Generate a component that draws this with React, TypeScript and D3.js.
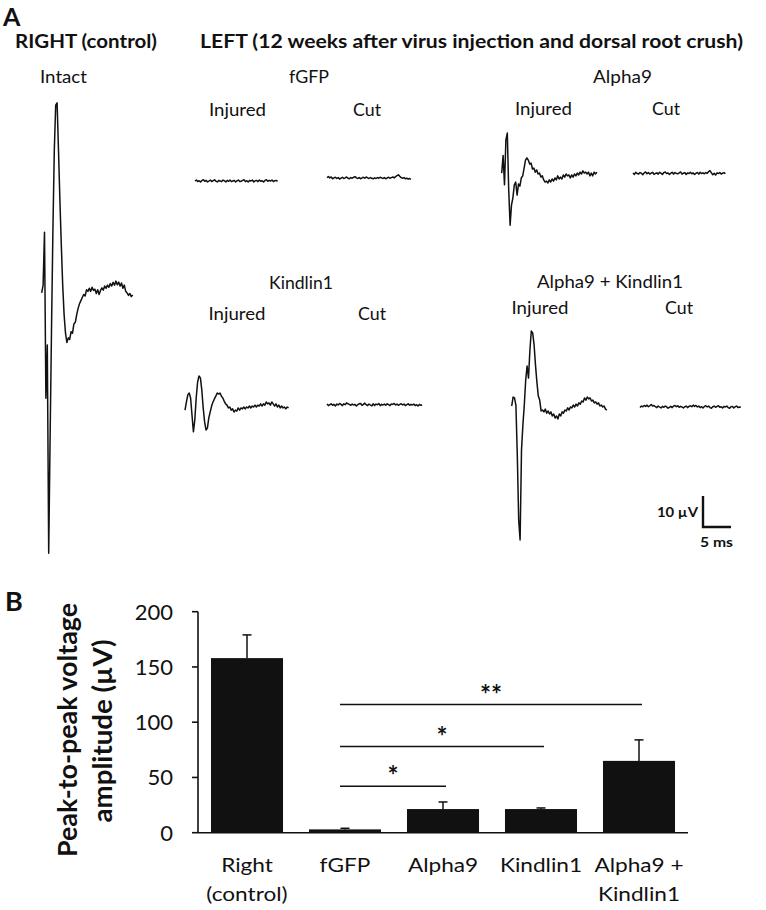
import * as d3 from "d3";

const width = 766;
const height = 910;

// ---- A: evoked potentials in µV, one sample every 0.25 ms ----
const sampleMs = 0.25;

const intact = [1, 3.5, 20.6, -33, -15.8, -83, -46, -11, 21, 47, 61.6, 62.3, 47, 31, 16.5, 3.5, -6, -12, -15, -13.5, -14, -11.5, -12, -9, -8.5, -6, -4, -2.5, -1.5, -0.5, 0.5, 0, 2, 1.5, 2.5, 1.5, 2.8, 1.8, 2.2, 0.8, 2, 0.5, 1.8, 2.6, 1.9, 3.2, 2.5, 3.5, 2.8, 4, 3.2, 4.4, 3.5, 4.8, 3.6, 4.5, 3.2, 4.2, 2.5, 3.5, 1.5, 1.0, 0.2, 0.8, -0.2, 0.3];

const fgfpInjured = [0, 0.3, -0.2, 0.1, -0.3, 0.2, 0.4, -0.1, 0.2, -0.3, 0, 0.3, -0.2, 0.1, 0.4, -0.1, -0.3, 0.2, 0, -0.2, 0.3, 0.1, -0.3, 0.2, -0.1, 0.3, -0.2, 0, 0.2, -0.3, 0.1, 0.3, -0.2, -0.1, 0.2, 0.4, -0.2, 0.1, -0.3, 0.2, 0, 0.3, -0.3, 0.1, 0.2, -0.2, 0.3, -0.1, 0.1, -0.3, 0.2, 0.4, -0.1, 0.2, 0, 0.3, -0.2, 0.1, 0.2, -0.1];
const fgfpCut = [0.3, 0.6, 0.2, 0.5, -0.1, 0.2, 0.4, 0, 0.3, -0.2, 0.1, 0.4, 0, 0.2, 0.5, 0.1, -0.1, 0.3, 0.1, 0.4, 0.6, 0.2, 0, 0.3, -0.1, 0.2, 0.4, 0.1, 0.5, 0.2, 0, 0.3, 0.1, -0.1, 0.2, 0, 0.3, 0.1, 0.4, 0.2, 0, 0.3, -0.1, 0.2, 0.4, 0.1, 0.3, 0.5, 0.2, 0.6, 0.9, 1.2, 0.7, 0.3, 0.1, 0.3, -0.1, 0.1, -0.2, 0, -0.3];

const alpha9Injured = [0.3, 6, -3.5, 11, 13.2, -5, -16.5, -10, -7.7, -3.5, -2.6, -6.8, -3.2, -3.9, -1.3, -0.6, 1.9, 4.5, 5.2, 4.5, 3.2, 3.5, 1.6, 1.9, 0.6, 1.3, 0, 0.3, -1, -0.6, -1.9, -2.6, -2.3, -2.9, -1.9, -2.6, -1.6, -2.3, -1.3, -1.9, -0.6, -1.6, -1, -1.6, -0.3, -1, 0, -0.6, -0.3, -1.3, -0.3, -1, 0, -0.6, 0.3, -0.3, 0.6, 0, 1, 0.3, 0.6, 0, 0.6, -0.6, 0.3, -0.6, 0.6, 0, 0.6];
const alpha9Cut = [0.2, -0.3, 0.4, 0, -0.2, 0.3, 0.1, -0.4, 0.2, 0.5, -0.1, 0.3, -0.2, 0.1, 0.4, -0.3, 0, 0.2, -0.2, 0.4, 0.1, -0.3, 0.3, 0.5, 0, 0.2, -0.3, 0.1, 0.4, -0.2, 0.3, 0, -0.1, 0.2, 0.5, -0.2, 0.1, 0.3, -0.3, 0.2, 0, 0.4, -0.1, 0.2, -0.3, 0.1, 0.3, -0.2, 0.4, 0, 0.2, -0.1, 0.3, 0.1, 0.6, 0.9, 0.2, -0.4, 0.1, -0.5, 0.2, 0, 0.3, -0.2, 0.1, 0.3, -0.1];

const kindlin1Injured = [-1, 1.6, 3.9, 4.5, 2.9, -2.6, -8, -4.2, 2.9, 8, 10, 9.4, 5.5, -0.3, -4.8, -7.4, -6.8, -3.5, -1.6, 0.3, 1.6, 2.6, 3.5, 4.5, 4.2, 4.5, 3.5, 2.9, 1.9, 1, 0.6, -0.3, 0, -1, -0.6, -1.6, -1, -1.3, -0.3, -1, -0.3, -0.6, 0, -0.6, 0, -0.3, 0.3, -0.3, 0.3, 0, 0.6, 0, 0.6, 0.3, 1, 0.3, 1, 0.6, 1.6, 1, 1.3, 0.6, 1.6, 1, 0.3, 1, 0, 0.6, -0.3, 0.3, -0.3, 0, -0.6, 0, -0.3];
const kindlin1Cut = [0.3, -0.2, 0.1, 0.4, -0.1, 0.2, -0.3, 0.3, 0, 0.5, 0.2, -0.2, 0.4, 0.1, 0.7, 0.4, 0.2, -0.1, 0.3, 0, 0.2, -0.3, 0.1, 0.4, 0.5, -0.1, 0.2, 0.6, 0.1, -0.2, 0.3, 0, -0.3, 0.4, -0.2, 0.3, 0.1, 0.5, -0.2, 0.2, 0, 0.3, -0.1, 0.4, 0.1, -0.2, 0.3, 0.2, 0.5, 0, 0.3, -0.1, 0.2, 0.4, 0, 0.3, -0.2, 0.1, 0.4, -0.1, 0.2, 0, 0.3, -0.2, 0.1, -0.3, 0.2, -0.1, 0];

const comboInjured = [0, 2.9, 2.6, 0.3, -15.8, -36.8, -43.2, -14.2, -6.1, 0.3, 8.4, 12.9, 9, 18, 24.2, 23.5, 19.7, 13.2, 7.7, 3.2, 1.9, -1.6, -1.3, -1.9, -1, -2.3, -1.6, -2.6, -1.9, -3.2, -2.6, -3.9, -3.2, -4.2, -2.6, -3.2, -1.9, -2.3, -1.3, -1.6, -0.6, -1.3, -0.3, -0.6, 0.3, -0.3, 0.6, 0, 1, 0.6, 1.6, 1.3, 2.6, 1.9, 2.9, 2.3, 2.6, 1.6, 1.9, 1, 1.3, 0.6, 1, 0, 0.3, -0.3, 0, -1, -1.3];
const comboCut = [-0.2, 0.3, 0.1, 0.5, 0.2, 0.6, 0.1, 0.4, 0.8, 0.3, 0.5, 0.1, -0.2, 0.3, 0, -0.3, 0.2, -0.1, 0.3, 0.1, -0.4, -0.1, 0.2, -0.2, 0.3, 0.5, 0.1, 0.4, -0.1, 0.2, 0, -0.3, 0.1, 0.3, -0.2, 0.2, 0.4, 0.1, 0.6, 0.2, 0.5, 0, 0.3, -0.2, 0.1, -0.3, 0.2, 0.4, 0, 0.3, -0.2, -0.4, 0.1, 0.3, -0.1, 0.2, 0.4, -0.1, 0.1, -0.3, 0.2, 0, 0.3, -0.2, -0.4, 0.1, 0.2, -0.3, 0.1, 0.3, -0.2, 0, -0.1];

// where each trace sits (start x, baseline y)
const traces = [
  { key: "intact", values: intact, x0: 41.7, y0: 296 },
  { key: "fgfpInj", values: fgfpInjured, x0: 195, y0: 181 },
  { key: "fgfpCut", values: fgfpCut, x0: 327, y0: 178.5 },
  { key: "a9Inj", values: alpha9Injured, x0: 501.7, y0: 174 },
  { key: "a9Cut", values: alpha9Cut, x0: 633, y0: 173.5 },
  { key: "k1Inj", values: kindlin1Injured, x0: 185, y0: 407 },
  { key: "k1Cut", values: kindlin1Cut, x0: 327, y0: 405 },
  { key: "comboInj", values: comboInjured, x0: 511.7, y0: 406 },
  { key: "comboCut", values: comboCut, x0: 640, y0: 407 },
];

// ---- B: peak-to-peak amplitude (µV) ----
const categories = ["Right", "fGFP", "Alpha9", "Kindlin1", "Alpha9 + Kindlin1"];
const categoryLines = [["Right", "(control)"], ["fGFP"], ["Alpha9"], ["Kindlin1"], ["Alpha9 +", "Kindlin1"]];
const means = [158, 3, 21.4, 21.4, 65];
const errors = [21, 1, 6.4, 1, 19];
const yTicks = [0, 50, 100, 150, 200];
const sigTargets = ["Alpha9", "Kindlin1", "Alpha9 + Kindlin1"];
const sigLevels = [42, 78, 116];
const sigLabels = ["*", "*", "**"];

const font = "Lato, 'Open Sans', sans-serif";
const ink = "#111";

type LabelProps = {
  x: number;
  y: number;
  size: number;
  bold?: boolean;
  anchor?: "start" | "middle" | "end";
  w?: number;
  sx?: number;
  children: string;
};

const Label = ({ x, y, size, bold, anchor = "middle", w, sx, children }: LabelProps) => (
  <text
    transform={`translate(${x},${y})${sx ? ` scale(${sx},1)` : ""}`}
    fontSize={size}
    fontWeight={bold ? 700 : 400}
    textAnchor={anchor}
    textLength={w}
    lengthAdjust={w ? "spacingAndGlyphs" : undefined}
    fill={ink}
  >
    {children}
  </text>
);

const App = () => {
  // traces: 5 ms -> 28 px, 10 µV -> 31 px
  const ms = d3.scaleLinear().domain([0, 5]).range([0, 28]);
  const uv = d3.scaleLinear().domain([0, 10]).range([0, -31]);

  const traceLine = (x0: number, y0: number) =>
    d3
      .line<number>()
      .x((_, i) => x0 + ms(i * sampleMs))
      .y((v) => y0 + uv(v));

  // bar chart scales
  const x = d3
    .scaleBand<string>()
    .domain(categories)
    .range([198, 688])
    .paddingInner(0.265)
    .paddingOuter(0.1325);
  const y = d3.scaleLinear().domain([0, 200]).range([832.7, 611.7]);
  const bw = x.bandwidth();
  const cx = (c: string) => (x(c) ?? 0) + bw / 2;

  const sbX = 703;
  const sbY = 527;

  return (
    <svg
      width={width}
      height={height}
      viewBox={`0 0 ${width} ${height}`}
      style={{ position: "absolute", left: 0, top: 0, background: "#fff", fontFamily: font }}
    >
      <rect width={width} height={height} fill="#fff" />

      {/* panel A headings */}
      <Label x={3} y={26} size={25} bold anchor="start">A</Label>
      <Label x={15} y={48} size={18} bold anchor="start" w={142}>RIGHT (control)</Label>
      <Label x={200} y={48} size={18} bold anchor="start" w={543}>
        LEFT (12 weeks after virus injection and dorsal root crush)
      </Label>
      <Label x={63.5} y={83} size={18} w={47}>Intact</Label>
      <Label x={309} y={83} size={18} w={40}>fGFP</Label>
      <Label x={622.5} y={83} size={18} w={59}>Alpha9</Label>
      <Label x={237.5} y={116} size={18} w={57}>Injured</Label>
      <Label x={367} y={116} size={18} w={28}>Cut</Label>
      <Label x={543.5} y={115} size={18} w={57}>Injured</Label>
      <Label x={666} y={115} size={18} w={28}>Cut</Label>
      <Label x={301} y={289} size={18} w={64}>Kindlin1</Label>
      <Label x={610} y={288} size={18} w={146}>Alpha9 + Kindlin1</Label>
      <Label x={237} y={320} size={18} w={57}>Injured</Label>
      <Label x={372} y={320} size={18} w={28}>Cut</Label>
      <Label x={540} y={314} size={18} w={57}>Injured</Label>
      <Label x={679} y={314} size={18} w={28}>Cut</Label>

      {/* traces */}
      <g fill="none" stroke={ink} strokeWidth={1.5} strokeLinejoin="round">
        {traces.map((t) => (
          <path key={t.key} d={traceLine(t.x0, t.y0)(t.values) ?? ""} />
        ))}
      </g>

      {/* scale bar */}
      <path
        d={`M${sbX},${sbY + uv(10)}V${sbY}H${sbX + ms(5)}`}
        fill="none"
        stroke={ink}
        strokeWidth={2.4}
      />
      <Label x={698} y={517} size={14} bold anchor="end" w={41}>10 µV</Label>
      <Label x={716.5} y={547} size={14} bold w={33}>5 ms</Label>

      {/* panel B */}
      <Label x={5} y={611} size={27} bold anchor="start">B</Label>

      <g fontSize={26} fontWeight={700} fill={ink}>
        <text transform="translate(77,730) rotate(-90)" textAnchor="middle" textLength={254} lengthAdjust="spacingAndGlyphs">
          Peak-to-peak voltage
        </text>
        <text transform="translate(112,731) rotate(-90)" textAnchor="middle" textLength={183} lengthAdjust="spacingAndGlyphs">
          amplitude (µV)
        </text>
      </g>

      {/* y axis */}
      <g stroke={ink} strokeWidth={1.6}>
        <line x1={198} x2={198} y1={y(200)} y2={y(0)} />
        {yTicks.map((t) => (
          <line key={t} x1={192} x2={198} y1={y(t)} y2={y(t)} />
        ))}
        <line x1={198} x2={688} y1={y(0)} y2={y(0)} />
      </g>
      {yTicks.map((t) => (
        <Label key={t} x={173} y={y(t) + 8} size={22} anchor="end">{String(t)}</Label>
      ))}

      {/* bars and error bars */}
      {categories.map((c, i) => (
        <g key={c}>
          <rect x={x(c)} y={y(means[i])} width={bw} height={y(0) - y(means[i])} fill={ink} />
          <g stroke={ink} strokeWidth={1.5}>
            <line x1={cx(c)} x2={cx(c)} y1={y(means[i])} y2={y(means[i] + errors[i])} />
            <line x1={cx(c) - 4.5} x2={cx(c) + 4.5} y1={y(means[i] + errors[i])} y2={y(means[i] + errors[i])} />
          </g>
          {categoryLines[i].map((ln, j) => (
            <Label key={ln} x={cx(c)} y={872 + j * 29} size={19.5} sx={1.16}>{ln}</Label>
          ))}
        </g>
      ))}

      {/* significance */}
      {sigTargets.map((c, i) => {
        const x1 = cx("fGFP") - 5;
        const x2 = cx(c) + 3;
        const ly = y(sigLevels[i]);
        return (
          <g key={c}>
            <line x1={x1} x2={x2} y1={ly} y2={ly} stroke={ink} strokeWidth={1.5} />
            <Label x={(x1 + x2) / 2} y={ly - 1} size={26} bold>{sigLabels[i]}</Label>
          </g>
        );
      })}
    </svg>
  );
};

export default App;
